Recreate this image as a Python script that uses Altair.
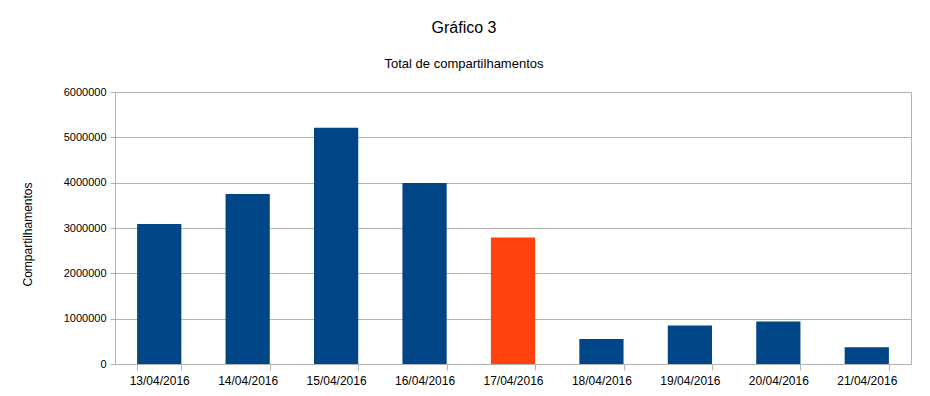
import altair as alt
import pandas as pd

dates = ["13/04/2016", "14/04/2016", "15/04/2016", "16/04/2016", "17/04/2016",
         "18/04/2016", "19/04/2016", "20/04/2016", "21/04/2016"]
shares = [3090000, 3750000, 5210000, 3990000, 2790000, 552000, 847000, 935000, 369000]
highlighted = ["17/04/2016"]

df = pd.DataFrame({"Data": dates, "Compartilhamentos": shares})
df["Grupo"] = ["destaque" if d in highlighted else "normal" for d in dates]

FONT = "Liberation Sans"

chart = alt.Chart(df).mark_bar(stroke=None).encode(
    x=alt.X("Data:N", sort=dates, title=None,
            scale=alt.Scale(paddingInner=0.5, paddingOuter=0.25),
            axis=alt.Axis(labelAngle=0, labelFontSize=12, labelColor="#000000",
                          labelFont=FONT, labelPadding=5,
                          tickBand="extent", tickColor="#b3b3b3", tickSize=6,
                          domainColor="#b3b3b3", grid=False)),
    y=alt.Y("Compartilhamentos:Q", title="Compartilhamentos",
            scale=alt.Scale(domain=[0, 6000000], nice=False),
            axis=alt.Axis(values=[0, 1000000, 2000000, 3000000, 4000000, 5000000, 6000000],
                          format="d", labelFontSize=11, labelColor="#000000",
                          labelFont=FONT, labelPadding=4,
                          tickColor="#b3b3b3", tickSize=5,
                          domainColor="#b3b3b3", gridColor="#b3b3b3",
                          titleFont=FONT, titleFontSize=12, titleFontWeight="normal",
                          titleColor="#000000", titlePadding=29, titleY=142)),
    color=alt.Color("Grupo:N",
                    scale=alt.Scale(domain=["normal", "destaque"], range=["#004586", "#ff420e"]),
                    legend=None),
).properties(
    width=796, height=272,
    autosize=alt.AutoSizeParams(type="none"),
    padding={"left": 107, "top": 84, "right": 11, "bottom": 30},
    title=alt.Title("Gráfico 3", subtitle="Total de compartilhamentos",
                    font=FONT, fontSize=16, fontWeight="normal", color="#000000",
                    subtitleFont=FONT, subtitleFontSize=13, subtitleColor="#000000",
                    subtitlePadding=22, offset=15, anchor="middle", dx=-49),
).configure_view(stroke="#b3b3b3")

chart.save("out.html", embed_options={"renderer": "svg", "actions": False})
